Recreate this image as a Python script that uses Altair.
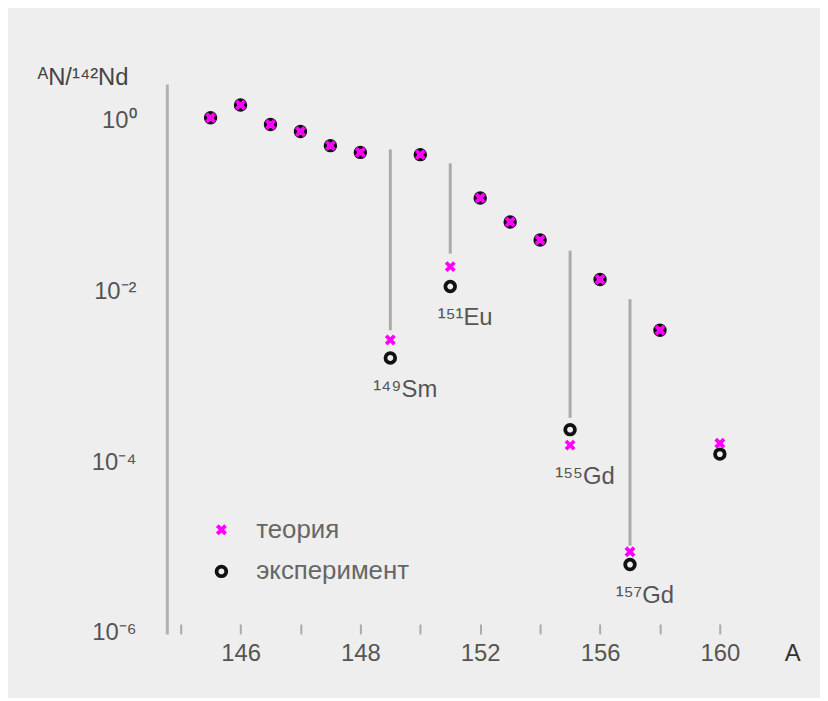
import altair as alt
import pandas as pd

# ---- data ----
A = [143, 144, 145, 146, 147, 148, 149, 150, 151, 152, 153, 154, 155, 156, 157, 158, 160]
theory = [1.08, 1.53, 0.90, 0.745, 0.51, 0.425, 2.7e-3, 0.40, 0.0195, 0.124, 0.065,
          0.040, 1.58e-4, 0.0138, 8.9e-6, 0.0035, 1.66e-4]
experiment = [1.08, 1.53, 0.90, 0.745, 0.51, 0.425, 1.66e-3, 0.40, 0.0114, 0.124, 0.065,
              0.040, 2.4e-4, 0.0138, 6.3e-6, 0.0035, 1.24e-4]
series_names = ["теория", "эксперимент"]

absorber_A = [149, 151, 155, 157]
absorber_top = [0.46, 0.316, 0.030, 8.1e-3]
absorber_bottom = [3.5e-3, 0.0277, 3.3e-4, 1.05e-5]
absorber_labels = ["¹⁴⁹Sm", "¹⁵¹Eu", "¹⁵⁵Gd", "¹⁵⁷Gd"]

x_tick_values = [142, 144, 146, 148, 150, 152, 154, 156, 158, 160]
x_tick_labels = ["", "146", "", "148", "", "152", "", "156", "", "160"]
y_tick_values = [1, 1e-2, 1e-4, 1e-6]
y_tick_exps = [0, -2, -4, -6]
y_tick_labels = ["10⁰", "10⁻²", "10⁻⁴", "10⁻⁶"]

y_title = "ᴬN/¹⁴²Nd"
x_title = "A"

# ---- tables ----
rows = []
for a, e in zip(A, experiment):
    rows.append({"A": a, "value": e, "series": series_names[1], "z": 0})
for a, t in zip(A, theory):
    rows.append({"A": a, "value": t, "series": series_names[0], "z": 1})
pts = pd.DataFrame(rows)

lines = pd.DataFrame({"A": absorber_A, "top": absorber_top, "bottom": absorber_bottom})
anchor = {a: min(t, e) for a, t, e in zip(A, theory, experiment)}
labels = pd.DataFrame({"A": absorber_A,
                       "value": [anchor[a] for a in absorber_A],
                       "label": absorber_labels})

x_expr = " : ".join(f"datum.value == {v} ? '{l}'" for v, l in zip(x_tick_values, x_tick_labels)) + " : ''"
y_expr = " : ".join(f"round(log(datum.value)/LN10) == {e} ? '{l}'" for e, l in zip(y_tick_exps, y_tick_labels)) + " : ''"

FONT = "Liberation Sans"
TXT = "#555555"

xscale = alt.Scale(domain=[141.54, 161.42], nice=False, zero=False)
yscale = alt.Scale(type="log", domain=[9.7e-7, 2.69], nice=False)

xaxis = alt.Axis(values=x_tick_values, labelExpr=x_expr, domain=False, ticks=True,
                 tickSize=10, tickColor="#aaaaaa", tickWidth=2, offset=-10, grid=False,
                 labelFont=FONT, labelFontSize=24, labelColor=TXT, labelPadding=8,
                 labelBaseline="top",
                 title=x_title, titleX=630, titleY=18, titleAlign="center",
                 titleBaseline="top", titleFont=FONT, titleFontSize=24,
                 titleFontWeight="normal", titleColor="#333333")
yaxis = alt.Axis(values=y_tick_values, labelExpr=y_expr, domain=True, domainColor="#b0b0b0",
                 domainWidth=3, ticks=False, grid=False, labelPadding=31,
                 labelFont=FONT, labelFontSize=24, labelColor=TXT, labelBaseline="middle",
                 title=y_title, titleX=-85, titleY=-6, titleAngle=0, titleAlign="center",
                 titleBaseline="middle", titleFont=FONT, titleFontSize=24,
                 titleFontWeight="normal", titleColor="#444444")

xpath = "M-1,-1L1,1M1,-1L-1,1"

rules = alt.Chart(lines).mark_rule(color="#aaaaaa", strokeWidth=3).encode(
    x=alt.X("A:Q", scale=xscale, axis=xaxis),
    y=alt.Y("top:Q", scale=yscale, axis=yaxis),
    y2="bottom:Q",
)

points = alt.Chart(pts).mark_point(filled=False, strokeWidth=3.8, opacity=1).encode(
    x=alt.X("A:Q", scale=xscale, axis=xaxis),
    y=alt.Y("value:Q", scale=yscale, axis=yaxis),
    shape=alt.Shape("series:N", scale=alt.Scale(domain=series_names, range=[xpath, "circle"]),
                    legend=alt.Legend(title=None)),
    color=alt.Color("series:N", scale=alt.Scale(domain=series_names, range=["#ff00ff", "#111111"]),
                    legend=alt.Legend(title=None)),
    size=alt.Size("series:N", scale=alt.Scale(domain=series_names, range=[70, 95]),
                  legend=alt.Legend(title=None)),
    order=alt.Order("z:Q"),
)

texts = alt.Chart(labels).mark_text(font=FONT, fontSize=24, color=TXT, align="center",
                                    baseline="middle", dx=15, dy=32).encode(
    x=alt.X("A:Q", scale=xscale, axis=xaxis),
    y=alt.Y("value:Q", scale=yscale, axis=yaxis),
    text="label:N",
)

chart = alt.layer(rules, points, texts).properties(
    width=600, height=554,
    autosize=alt.AutoSizeParams(type="none"),
    padding={"left": 160, "top": 74, "right": 58, "bottom": 62},
    background="#eeeeee",
).configure_view(stroke=None).configure_legend(
    orient="none", legendX=42, legendY=436, labelFont=FONT, labelFontSize=26,
    labelColor="#666666", labelOffset=22, rowPadding=16, symbolStrokeWidth=3.8,
    padding=0,
)

chart.save("out.html", embed_options={"renderer": "svg", "actions": False})
